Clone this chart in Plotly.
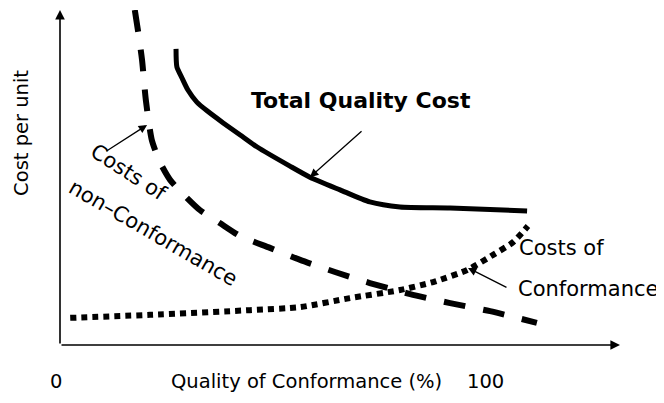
import plotly.graph_objects as go

# Data (x: quality of conformance %, y: cost per unit, arbitrary 0-100)
total_x = [27.3, 27.5, 28.7, 30.1, 32.2, 34.6, 38.4, 42.4, 46.4, 54.1, 58.8, 65.9, 72.9, 80.0, 91.8, 109.9]
total_y = [88.4, 83.0, 79.7, 76.1, 72.5, 69.9, 66.3, 62.7, 59.1, 53.4, 50.1, 46.3, 42.7, 41.2, 40.9, 40.0]

nonconf_x = [17.6, 18.4, 19.3, 20.2, 21.6, 23.5, 25.9, 29.4, 32.9, 37.6, 42.4, 49.4, 56.5, 64.7, 72.9, 82.4, 91.8, 101.2, 112.2]
nonconf_y = [100.0, 93.4, 85.1, 73.1, 61.2, 54.6, 49.3, 44.5, 40.3, 36.4, 32.5, 29.0, 25.4, 21.8, 18.5, 15.2, 12.5, 10.1, 6.6]

conf_x = [2.4, 21.2, 44.7, 56.5, 68.2, 80.0, 87.8, 95.8, 101.9, 106.6, 110.1]
conf_y = [8.1, 9.0, 10.4, 11.3, 14.0, 16.4, 18.8, 22.4, 26.9, 30.7, 35.5]

tick_vals = [0, 100]
tick_labels = ["0", "100"]

X_MAX = 131.76
Y_MAX = 100.0
FONT = "DejaVu Sans"

fig = go.Figure()
fig.add_trace(go.Scatter(x=total_x, y=total_y, mode="lines",
                         line=dict(color="black", width=5, shape="spline", smoothing=0.6),
                         hoverinfo="skip", showlegend=False))
fig.add_trace(go.Scatter(x=nonconf_x, y=nonconf_y, mode="lines",
                         line=dict(color="black", width=6, dash="22px,18px", shape="spline", smoothing=0.6),
                         hoverinfo="skip", showlegend=False))
fig.add_trace(go.Scatter(x=conf_x, y=conf_y, mode="lines",
                         line=dict(color="black", width=6, dash="6px,5px", shape="spline", smoothing=0.6),
                         hoverinfo="skip", showlegend=False))

ann = []
# axes arrows
ann.append(dict(x=0, y=Y_MAX, ax=0, ay=0, xref="x", yref="y", axref="x", ayref="y",
                showarrow=True, arrowhead=2, arrowsize=1.2, arrowwidth=1.6, arrowcolor="black", text=""))
ann.append(dict(x=X_MAX, y=0, ax=0, ay=0, xref="x", yref="y", axref="x", ayref="y",
                showarrow=True, arrowhead=2, arrowsize=1.2, arrowwidth=1.6, arrowcolor="black", text=""))

C = dict(xanchor="center", yanchor="middle", showarrow=False)

# tick labels and axis titles
for v, t in zip(tick_vals, tick_labels):
    ann.append(dict(x=v, y=-0.1075, xref="x", yref="paper", text=t,
                    xshift=(-4 if v == 0 else 0),
                    font=dict(family=FONT, size=19.5, color="black"), **C))
ann.append(dict(x=58.1, y=-0.1075, xref="x", yref="paper", text="Quality of Conformance (%)",
                font=dict(family=FONT, size=19.5, color="black"), **C))
ann.append(dict(x=-0.0679, y=0.633, xref="paper", yref="paper", text="Cost per unit",
                textangle=-90, font=dict(family=FONT, size=19.5, color="black"), **C))

# curve labels
ann.append(dict(x=70.8, y=73.1, xref="x", yref="y", text="<b>Total Quality Cost</b>",
                font=dict(family=FONT, size=22, color="black"), **C))
ann.append(dict(x=58.8, y=50.1, ax=71.3, ay=64.2, xref="x", yref="y", axref="x", ayref="y", text="",
                showarrow=True, arrowhead=2, arrowsize=1.3, arrowwidth=1.3, arrowcolor="black"))

ann.append(dict(x=16.0, y=51.6, xref="x", yref="y", text="Costs of", textangle=33,
                font=dict(family=FONT, size=21, color="black"), **C))
ann.append(dict(x=20.5, y=65.7, ax=10.6, ay=57.6, xref="x", yref="y", axref="x", ayref="y", text="",
                showarrow=True, arrowhead=2, arrowsize=1.3, arrowwidth=1.3, arrowcolor="black"))
ann.append(dict(x=21.9, y=33.4, xref="x", yref="y", text="non\u2013Conformance", textangle=30,
                font=dict(family=FONT, size=21, color="black"), **C))

ann.append(dict(x=118.1, y=29.0, xref="x", yref="y", text="Costs of",
                font=dict(family=FONT, size=21, color="black"), **C))
ann.append(dict(x=124.2, y=16.7, xref="x", yref="y", text="Conformance",
                font=dict(family=FONT, size=21, color="black"), **C))
ann.append(dict(x=96.0, y=23.0, ax=105.4, ay=17.0, xref="x", yref="y", axref="x", ayref="y", text="",
                showarrow=True, arrowhead=2, arrowsize=1.3, arrowwidth=1.3, arrowcolor="black"))

# page body has an 8px margin, so the figure is 8px smaller and margins shifted
fig.update_layout(
    width=656, height=395,
    margin=dict(l=52, r=44, t=2, b=58),
    paper_bgcolor="white", plot_bgcolor="white",
    xaxis=dict(range=[0, X_MAX], visible=False, fixedrange=True),
    yaxis=dict(range=[0, Y_MAX], visible=False, fixedrange=True),
    annotations=ann,
    showlegend=False,
)

fig.write_html("out.html")
